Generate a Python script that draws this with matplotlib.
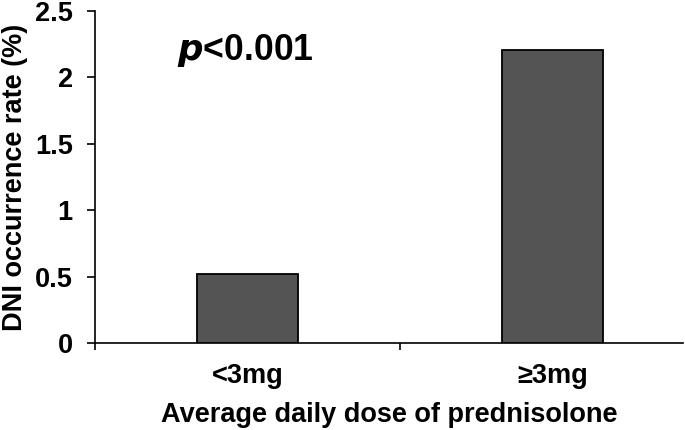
import matplotlib.pyplot as plt
import numpy as np

plt.rcParams['font.family'] = ['Liberation Sans', 'DejaVu Sans']
plt.rcParams['font.weight'] = 'bold'

groups = ['<3mg', '≥3mg']
rates = [0.52, 2.21]
y_ticks = [0, 0.5, 1, 1.5, 2, 2.5]
y_tick_labels = ['0', '0.5', '1', '1.5', '2', '2.5']

fig = plt.figure(figsize=(6.85, 4.30), dpi=100)
ax = fig.add_axes([95/685, 1 - 343/430, 588/685, 332/430])

x = np.arange(len(groups))
ax.bar(x, rates, width=0.33, color='#545454', edgecolor='black', linewidth=1.3, zorder=3)

ax.set_xlim(-0.5, -0.5 + 588/305)
ax.set_ylim(0, 2.5)

ax.spines['top'].set_visible(False)
ax.spines['right'].set_visible(False)
for s in ('left', 'bottom'):
    ax.spines[s].set_linewidth(1.2)
    ax.spines[s].set_color('black')

ax.set_yticks(y_ticks)
ax.set_yticklabels(y_tick_labels)
ax.tick_params(axis='y', length=6, width=1.2, pad=10, labelsize=19.5)

ax.set_xticks(x)
ax.set_xticklabels(groups)
ax.set_xticks([-0.5, 0.5], minor=True)
ax.tick_params(axis='x', which='major', length=0, pad=14.5, labelsize=19.5)
ax.tick_params(axis='x', which='minor', length=5, width=1.2)

ax.set_xlabel('Average daily dose of prednisolone', fontsize=19.5, fontweight='bold', labelpad=9.5)
ax.set_ylabel('DNI occurrence rate (%)', fontsize=19.5, fontweight='bold', labelpad=5)

ax.text(0.139, 0.88, r'$\boldsymbol{p}$<0.001', transform=ax.transAxes, fontsize=25.7,
        fontweight='bold', va='center', ha='left')

fig.savefig('out.png', dpi=100)
